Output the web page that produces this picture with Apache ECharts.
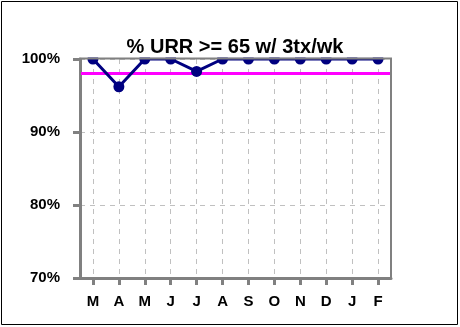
<!DOCTYPE html>
<html><head><meta charset="utf-8">
<script src="https://cdn.jsdelivr.net/npm/echarts@6/dist/echarts.min.js"></script>
<style>html,body{margin:0;padding:0;background:#fff}#c{width:460px;height:327px}</style>
</head><body><div id="c"></div>
<script>
var months = ['M','A','M','J','J','A','S','O','N','D','J','F'];
var urrValues = [100, 96.2, 100, 100, 98.3, 100, 100, 100, 100, 100, 100, 100];
var goalValue = 98;
var yTicks = [70, 80, 90, 100];

var chart = echarts.init(document.getElementById('c'), null, {renderer:'canvas'});
var font = 'Arial, "Liberation Sans", sans-serif';
chart.setOption({
  animation: false,
  backgroundColor: '#fff',
  title: {
    text: '% URR >= 65 w/ 3tx/wk', left: 230, top: 32, textAlign: 'center', z: 200, zlevel: 1,
    textStyle: {fontFamily: font, fontWeight: 'bold', fontSize: 20, color: '#000'}
  },
  grid: {left: 80, right: 69, top: 59, bottom: 49, show: false},
  xAxis: {
    type: 'category', data: months, boundaryGap: true,
    axisLine: {show: true, lineStyle: {color: '#808080', width: 3}},
    axisTick: {show: true, alignWithLabel: true, length: 7, lineStyle: {color: '#808080', width: 3}},
    axisLabel: {fontFamily: font, fontWeight: 'bold', fontSize: 15, color: '#000', margin: 16},
    splitLine: {show: true, alignWithLabel: true, lineStyle: {color: '#c0c0c0', type: [5, 5], width: 1}}
  },
  yAxis: {
    type: 'value', min: yTicks[0], max: yTicks[yTicks.length-1], interval: 10,
    axisLine: {show: true, lineStyle: {color: '#808080', width: 3}},
    axisTick: {show: true, length: 7, lineStyle: {color: '#808080', width: 3}},
    axisLabel: {fontFamily: font, fontWeight: 'bold', fontSize: 15, color: '#000', margin: 20, formatter: '{value}%'},
    splitLine: {show: true, lineStyle: {color: '#c0c0c0', type: [5, 5], width: 1}}
  },
  series: [{
    type: 'line', data: urrValues, symbol: 'circle', symbolSize: 11, clip: true, z: 3,
    lineStyle: {color: '#000080', width: 3}, itemStyle: {color: '#000080'},
    markLine: {
      silent: true, symbol: 'none', z: 2, label: {show: false},
      lineStyle: {color: '#ff00ff', width: 3, type: 'solid'},
      data: [{yAxis: goalValue}]
    }
  }],
  graphic: [
    {type: 'rect', zlevel: 1, z: 100, shape: {x: 76, y: 44, width: 320, height: 13.5}, style: {fill: '#fff'}},
    {type: 'rect', zlevel: 1, z: 110, shape: {x: 80, y: 58.5, width: 311, height: 219.5}, style: {fill: null, stroke: '#808080', lineWidth: 2}},
    {type: 'rect', zlevel: 1, z: 120, shape: {x: 1.5, y: 1.5, width: 456, height: 323}, style: {fill: null, stroke: '#000', lineWidth: 1}}
  ]
});
</script></body></html>
